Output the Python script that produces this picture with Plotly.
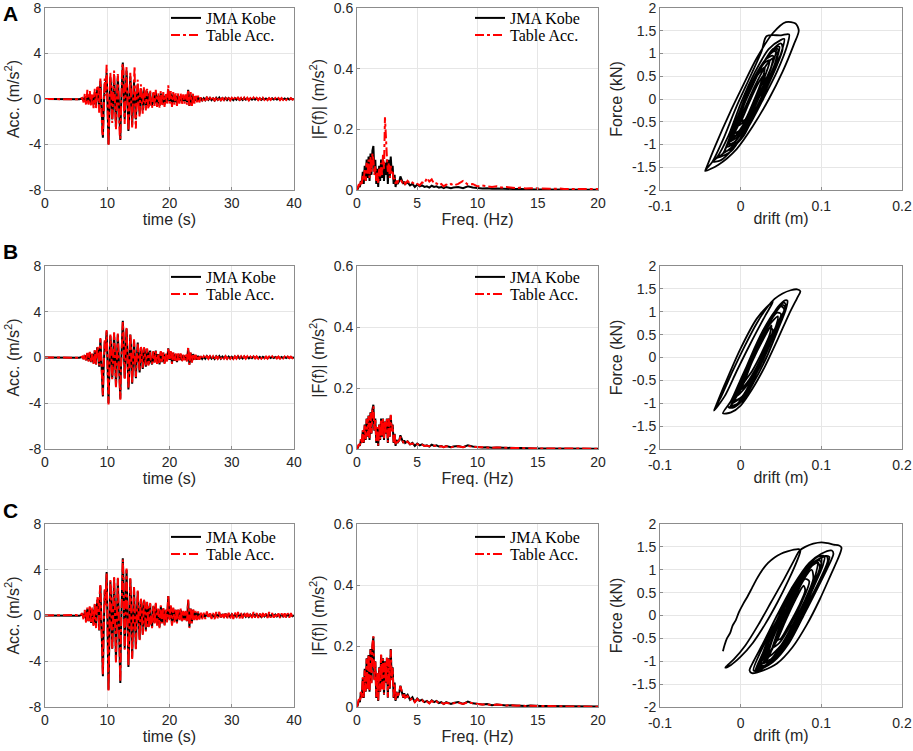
import plotly.graph_objects as go

# ---------------- time axis segments (s) and frequency segments (Hz) ----------------
T_SEG_START = [0.0, 6.0, 8.6, 17.0, 25.0]
T_SEG_STEP = [0.5, 0.2, 0.1, 0.2, 0.25]
F_SEG_START = [0.0, 4.0, 8.0]
F_SEG_STEP = [0.08, 0.2, 0.4]

# ---------------- acceleration records (m/s^2), one list per time segment ----------------
kobe_acc = [
    [0, 0, 0, 0, 0, 0, 0, 0, 0, 0, 0.02, -0.02],
    [0.05, -0.1, 0.2, -0.25, 0.35, -0.3, 0.45, -0.4, 0.3, -0.5, 0.6, -0.6, 0.9],
    [0.5, -0.8, 1.2, 1.6, 0.4, -1.5, -2.6, -3.4, -1.2, 1.0,
     1.4, 0.6, 1.8, 2.3, 0.5, -2.5, -4.0, -2.0, 0.8, 1.9,
     1.2, -0.5, -1.8, -0.9, 1.0, 2.1, 0.8, -1.2, -2.5, -1.0,
     1.1, 2.0, 0.7, -1.5, -3.0, -3.6, -1.0, 1.2, 2.4, 3.2,
     2.0, -0.5, -1.8, -0.4, 1.6, 2.5, 1.0, -1.5, -2.8, -1.6,
     0.5, 2.0, 1.1, -0.8, -2.3, -1.0, 0.6, 1.5, 0.4, -1.2,
     -1.8, -0.5, 1.0, 1.3, 0.2, -1.0, -1.3, 0.0, 0.9, 0.6,
     -0.6, -1.0, -0.2, 0.8, 0.7, -0.4, -0.8, 0.1, 0.7, 0.3,
     -0.6, -0.5, 0.4, 0.6],
    [-0.3, -0.6, 0.5, -0.4, 0.6, -0.5, 0.3, -0.6, 0.5, -0.4,
     0.4, -0.5, 0.3, -0.3, 0.8, -0.2, 0.5, -0.5, 0.4, -0.3,
     0.3, -0.4, 0.3, -0.2, 0.3, -0.3, 0.2, -0.2, 0.2, -0.3,
     0.8, -0.6, 0.4, -0.4, 0.3, -0.2, 0.2, -0.2, 0.15, -0.15],
    [0.1, -0.12, 0.08, -0.1, 0.12, -0.08, 0.1, -0.1, 0.06, -0.12,
     0.1, -0.08, 0.12, -0.1, 0.08, -0.06, 0.1, -0.1, 0.08, -0.08,
     0.06, -0.1, 0.08, -0.06, 0.1, -0.08, 0.06, -0.08, 0.08, -0.06,
     0.06, -0.08, 0.05, -0.06, 0.08, -0.05, 0.06, -0.06, 0.05, -0.08,
     0.06, -0.05, 0.05, -0.06, 0.04, -0.05, 0.06, -0.04, 0.05, -0.05,
     0.04, -0.06, 0.05, -0.04, 0.05, -0.05, 0.04, -0.04, 0.05, -0.03, 0.0],
]

table_acc_A = [
    [0, 0, 0, 0, 0, 0, 0, 0, 0, 0, 0.03, -0.03],
    [0.1, -0.3, 0.5, -0.6, 0.8, -0.5, 0.7, -0.6, 0.5, -0.8, 0.9, -0.9, 1.2],
    [0.9, -1.2, 1.5, 1.8, 0.2, -1.8, -2.9, -3.3, -0.8, 1.5,
     1.8, 0.3, 2.4, 3.0, 0.8, -2.8, -4.1, -1.6, 1.2, 2.3,
     1.0, -0.9, -2.1, -0.5, 1.5, 2.5, 0.4, -1.6, -2.7, -0.6,
     1.6, 2.2, 0.3, -1.9, -3.1, -3.5, -0.6, 1.6, 2.8, 3.1,
     2.6, -0.9, -2.2, 0.1, 2.0, 2.8, 0.6, -1.9, -2.8, -1.1,
     1.0, 2.3, 0.7, -1.3, -2.5, -0.6, 1.1, 2.1, 2.9, -1.6,
     -2.6, -0.2, 1.4, 1.7, -0.3, -1.5, -1.6, 0.4, 1.3, 0.3,
     -1.0, -1.3, 0.2, 1.1, 0.5, -0.8, -1.0, 0.4, 0.9, 0.1,
     -0.9, -0.6, 0.7, 0.8],
    [-0.5, -0.8, 0.7, -0.6, 0.8, -0.7, 0.5, -0.8, 0.7, -0.6,
     0.6, -0.7, 0.5, -0.5, 1.2, -0.4, 0.7, -0.7, 0.6, -0.5,
     0.5, -0.6, 0.5, -0.4, 0.5, -0.5, 0.4, -0.4, 0.4, -0.5,
     0.8, -0.7, 0.6, -0.6, 0.5, -0.4, 0.4, -0.3, 0.3, -0.3],
    [0.15, -0.18, 0.12, -0.15, 0.18, -0.12, 0.15, -0.15, 0.1, -0.18,
     0.15, -0.12, 0.18, -0.15, 0.12, -0.1, 0.15, -0.15, 0.12, -0.12,
     0.1, -0.15, 0.12, -0.1, 0.15, -0.12, 0.1, -0.12, 0.12, -0.1,
     0.1, -0.12, 0.08, -0.1, 0.12, -0.08, 0.1, -0.1, 0.08, -0.12,
     0.1, -0.08, 0.08, -0.1, 0.08, -0.08, 0.1, -0.08, 0.08, -0.08,
     0.08, -0.1, 0.08, -0.08, 0.08, -0.08, 0.08, -0.06, 0.08, -0.06, 0.0],
]

table_acc_B = [
    [0, 0, 0, 0, 0, 0, 0, 0, 0, 0, 0.02, -0.02],
    [0.08, -0.15, 0.25, -0.3, 0.4, -0.35, 0.5, -0.45, 0.35, -0.55, 0.65, -0.65, 0.95],
    [0.6, -0.7, 1.3, 1.7, 0.3, -1.6, -2.7, -3.3, -1.1, 1.1,
     1.5, 0.5, 1.9, 2.4, 0.4, -2.6, -4.1, -1.9, 0.9, 2.0,
     1.1, -0.6, -1.9, -0.8, 1.1, 2.2, 0.7, -1.3, -2.6, -0.9,
     1.2, 2.1, 0.6, -1.6, -3.1, -3.7, -0.9, 1.3, 2.5, 3.1,
     2.1, -0.6, -1.9, -0.3, 1.7, 2.6, 0.9, -1.6, -2.7, -1.5,
     0.6, 2.1, 1.0, -0.9, -2.2, -0.9, 0.7, 1.6, 0.3, -1.3,
     -1.7, -0.4, 1.1, 1.2, 0.1, -1.1, -1.2, 0.1, 1.0, 0.5,
     -0.7, -0.9, -0.1, 0.9, 0.6, -0.5, -0.7, 0.2, 0.8, 0.2,
     -0.7, -0.4, 0.5, 0.5],
    [-0.35, -0.55, 0.55, -0.45, 0.55, -0.55, 0.35, -0.55, 0.55, -0.45,
     0.45, -0.55, 0.35, -0.35, 0.85, -0.25, 0.55, -0.55, 0.45, -0.35,
     0.35, -0.45, 0.35, -0.25, 0.35, -0.35, 0.25, -0.25, 0.25, -0.35,
     0.85, -0.65, 0.45, -0.45, 0.35, -0.25, 0.25, -0.25, 0.2, -0.2],
    [0.12, -0.15, 0.1, -0.12, 0.15, -0.1, 0.12, -0.12, 0.1, -0.15,
     0.12, -0.1, 0.15, -0.12, 0.1, -0.1, 0.12, -0.12, 0.1, -0.1,
     0.1, -0.12, 0.1, -0.1, 0.12, -0.1, 0.1, -0.1, 0.1, -0.1,
     0.1, -0.1, 0.08, -0.1, 0.1, -0.08, 0.1, -0.1, 0.08, -0.1,
     0.08, -0.08, 0.08, -0.1, 0.08, -0.08, 0.1, -0.08, 0.08, -0.08,
     0.08, -0.1, 0.08, -0.08, 0.08, -0.08, 0.08, -0.06, 0.08, -0.06, 0.0],
]

kobe_acc_C = [
    [0, 0, 0, 0, 0, 0, 0, 0, 0, 0, 0.03, -0.03],
    [0.08, -0.16, 0.3, -0.4, 0.55, -0.5, 0.7, -0.65, 0.5, -0.8, 0.95, -0.95, 1.4],
    [0.8, -1.3, 1.9, 2.6, 0.6, -2.4, -4.2, -5.3, -1.9, 1.6,
     2.2, 1.0, 2.9, 3.8, 0.8, -4.0, -6.5, -3.2, 1.3, 3.0,
     1.9, -0.8, -2.9, -1.4, 1.6, 3.3, 1.3, -1.9, -4.0, -1.6,
     1.8, 3.2, 1.1, -2.4, -4.8, -5.9, -1.6, 1.9, 3.8, 5.0,
     3.2, -0.8, -2.9, -0.6, 2.6, 4.0, 1.6, -2.4, -4.5, -2.6,
     0.8, 3.2, 1.8, -1.3, -3.7, -1.6, 1.0, 2.4, 0.6, -1.9,
     -2.9, -0.8, 1.6, 2.1, 0.3, -1.6, -2.1, 0.0, 1.4, 1.0,
     -1.0, -1.6, -0.3, 1.3, 1.1, -0.6, -1.3, 0.2, 1.1, 0.5,
     -1.0, -0.8, 0.6, 1.0],
    [-0.5, -1.0, 0.8, -0.6, 1.0, -0.8, 0.5, -1.0, 0.8, -0.6,
     0.6, -0.8, 0.5, -0.5, 1.7, -0.3, 0.8, -0.8, 0.6, -0.5,
     0.5, -0.6, 0.5, -0.3, 0.5, -0.5, 0.3, -0.3, 0.3, -0.5,
     1.3, -1.0, 0.6, -0.6, 0.5, -0.3, 0.3, -0.3, 0.25, -0.25],
    [0.15, -0.18, 0.12, -0.15, 0.18, -0.12, 0.15, -0.15, 0.1, -0.18,
     0.15, -0.12, 0.18, -0.15, 0.12, -0.1, 0.15, -0.15, 0.12, -0.12,
     0.1, -0.15, 0.12, -0.1, 0.15, -0.12, 0.1, -0.12, 0.12, -0.1,
     0.1, -0.12, 0.08, -0.1, 0.12, -0.08, 0.1, -0.1, 0.08, -0.12,
     0.1, -0.08, 0.08, -0.1, 0.08, -0.08, 0.1, -0.08, 0.08, -0.08,
     0.08, -0.1, 0.08, -0.08, 0.08, -0.08, 0.08, -0.06, 0.08, -0.06, 0.0],
]

table_acc_C = [
    [0, 0, 0, 0, 0, 0, 0, 0, 0, 0.02, 0.05, -0.05],
    [0.2, -0.4, 0.5, -0.7, 0.7, -0.6, 0.9, -0.7, 0.7, -1.0, 1.1, -1.1, 1.6],
    [1.0, -1.4, 2.0, 2.7, 0.5, -2.5, -4.3, -5.2, -1.8, 1.7,
     2.3, 0.9, 3.0, 3.7, 0.7, -4.1, -6.6, -3.1, 1.4, 3.1,
     1.8, -0.9, -3.0, -1.3, 1.7, 3.4, 1.2, -2.0, -4.1, -1.5,
     1.9, 3.3, 1.0, -2.5, -4.9, -5.8, -1.5, 2.0, 3.9, 4.9,
     3.3, -0.9, -3.0, -0.5, 2.7, 4.1, 1.5, -2.5, -4.4, -2.5,
     0.9, 3.3, 1.7, -1.4, -3.8, -1.5, 1.1, 2.5, 0.5, -2.0,
     -3.0, -0.7, 1.7, 2.2, 0.2, -1.7, -2.2, 0.1, 1.5, 0.9,
     -1.1, -1.7, -0.2, 1.4, 1.0, -0.7, -1.4, 0.3, 1.2, 0.4,
     -1.1, -0.9, 0.7, 1.1],
    [-0.6, -1.1, 0.9, -0.7, 1.1, -0.9, 0.6, -1.1, 0.9, -0.7,
     0.7, -0.9, 0.6, -0.6, 1.8, -0.4, 0.9, -0.9, 0.7, -0.6,
     0.6, -0.7, 0.6, -0.4, 0.6, -0.6, 0.4, -0.4, 0.4, -0.6,
     1.4, -1.1, 0.7, -0.7, 0.6, -0.4, 0.4, -0.4, 0.35, -0.35],
    [0.3, -0.32, 0.25, -0.3, 0.35, -0.25, 0.3, -0.3, 0.22, -0.32,
     0.3, -0.25, 0.32, -0.3, 0.25, -0.22, 0.3, -0.3, 0.25, -0.25,
     0.22, -0.3, 0.25, -0.22, 0.3, -0.25, 0.22, -0.25, 0.25, -0.22,
     0.22, -0.25, 0.2, -0.22, 0.3, -0.2, 0.22, -0.22, 0.2, -0.25,
     0.22, -0.2, 0.2, -0.22, 0.3, -0.2, 0.22, -0.2, 0.2, -0.2,
     0.2, -0.22, 0.2, -0.2, 0.2, -0.2, 0.2, -0.18, 0.2, -0.15, 0.0],
]

# ---------------- Fourier amplitude spectra |F(f)| (m/s^2), one list per frequency segment ----------------
kobe_fft = [
    [0.0, 0.005, 0.015, 0.01, 0.03, 0.02, 0.06, 0.02, 0.08, 0.03,
     0.1, 0.04, 0.11, 0.03, 0.12, 0.05, 0.13, 0.145, 0.06, 0.1,
     0.02, 0.07, 0.01, 0.08, 0.03, 0.1, 0.04, 0.1, 0.03, 0.09,
     0.05, 0.1, 0.02, 0.1, 0.04, 0.11, 0.06, 0.08, 0.02, 0.05,
     0.01, 0.03, 0.02, 0.025, 0.03, 0.045, 0.035, 0.03, 0.02, 0.028],
    [0.02, 0.025, 0.015, 0.02, 0.01, 0.018, 0.012, 0.015, 0.01, 0.012,
     0.008, 0.014, 0.01, 0.012, 0.008, 0.01, 0.006, 0.01, 0.008, 0.006],
    [0.008, 0.01, 0.006, 0.012, 0.008, 0.006, 0.005, 0.006, 0.004, 0.005,
     0.004, 0.003, 0.004, 0.003, 0.003, 0.002, 0.003, 0.002, 0.002, 0.002,
     0.002, 0.002, 0.001, 0.002, 0.001, 0.001, 0.001, 0.001, 0.001, 0.001, 0.001],
]

table_fft_A = [
    [0.0, 0.01, 0.02, 0.01, 0.03, 0.02, 0.05, 0.03, 0.07, 0.03,
     0.09, 0.05, 0.1, 0.04, 0.11, 0.06, 0.12, 0.1, 0.05, 0.08,
     0.03, 0.06, 0.02, 0.07, 0.04, 0.09, 0.05, 0.12, 0.07, 0.24,
     0.14, 0.11, 0.06, 0.09, 0.04, 0.08, 0.05, 0.06, 0.03, 0.04,
     0.02, 0.03, 0.025, 0.03, 0.03, 0.035, 0.03, 0.025, 0.03, 0.028],
    [0.02, 0.03, 0.02, 0.025, 0.018, 0.02, 0.015, 0.025, 0.022, 0.04,
     0.028, 0.035, 0.02, 0.022, 0.015, 0.02, 0.012, 0.018, 0.015, 0.02],
    [0.015, 0.02, 0.03, 0.018, 0.02, 0.012, 0.015, 0.012, 0.01, 0.012,
     0.008, 0.01, 0.008, 0.006, 0.008, 0.005, 0.006, 0.005, 0.004, 0.005,
     0.004, 0.004, 0.005, 0.003, 0.004, 0.003, 0.003, 0.004, 0.003, 0.003, 0.003],
]

table_fft_B = [
    [0.0, 0.006, 0.016, 0.012, 0.032, 0.018, 0.062, 0.022, 0.078, 0.032,
     0.098, 0.042, 0.108, 0.032, 0.118, 0.052, 0.128, 0.14, 0.062, 0.098,
     0.022, 0.072, 0.012, 0.082, 0.032, 0.098, 0.042, 0.098, 0.032, 0.092,
     0.052, 0.098, 0.022, 0.1, 0.042, 0.112, 0.058, 0.078, 0.022, 0.052,
     0.012, 0.03, 0.022, 0.026, 0.028, 0.04, 0.035, 0.028, 0.022, 0.026],
    [0.022, 0.024, 0.016, 0.018, 0.012, 0.016, 0.012, 0.014, 0.01, 0.011,
     0.009, 0.012, 0.01, 0.01, 0.008, 0.009, 0.006, 0.009, 0.007, 0.006],
    [0.007, 0.009, 0.006, 0.01, 0.007, 0.006, 0.005, 0.005, 0.004, 0.005,
     0.004, 0.003, 0.004, 0.003, 0.003, 0.002, 0.003, 0.002, 0.002, 0.002,
     0.002, 0.002, 0.002, 0.002, 0.001, 0.001, 0.001, 0.001, 0.001, 0.001, 0.001],
]

kobe_fft_C = [
    [0.0, 0.008, 0.024, 0.016, 0.048, 0.03, 0.095, 0.03, 0.125, 0.05,
     0.16, 0.06, 0.17, 0.05, 0.19, 0.08, 0.2, 0.23, 0.09, 0.15,
     0.03, 0.11, 0.02, 0.13, 0.05, 0.17, 0.06, 0.16, 0.04, 0.15,
     0.08, 0.16, 0.03, 0.16, 0.06, 0.19, 0.09, 0.13, 0.03, 0.08,
     0.02, 0.05, 0.03, 0.04, 0.05, 0.07, 0.055, 0.045, 0.03, 0.045],
    [0.032, 0.04, 0.024, 0.032, 0.016, 0.028, 0.02, 0.024, 0.016, 0.02,
     0.013, 0.022, 0.016, 0.02, 0.013, 0.016, 0.01, 0.016, 0.013, 0.01],
    [0.013, 0.016, 0.01, 0.018, 0.012, 0.01, 0.008, 0.01, 0.006, 0.008,
     0.006, 0.005, 0.006, 0.005, 0.005, 0.003, 0.005, 0.003, 0.003, 0.003,
     0.003, 0.003, 0.002, 0.003, 0.002, 0.002, 0.002, 0.002, 0.002, 0.002, 0.002],
]

table_fft_C = [
    [0.0, 0.01, 0.026, 0.018, 0.05, 0.028, 0.098, 0.032, 0.12, 0.052,
     0.158, 0.058, 0.172, 0.052, 0.188, 0.078, 0.205, 0.232, 0.088, 0.148,
     0.032, 0.112, 0.022, 0.128, 0.052, 0.172, 0.058, 0.158, 0.042, 0.148,
     0.082, 0.162, 0.032, 0.158, 0.062, 0.188, 0.088, 0.128, 0.032, 0.078,
     0.022, 0.048, 0.032, 0.042, 0.048, 0.068, 0.052, 0.042, 0.032, 0.042],
    [0.03, 0.036, 0.022, 0.03, 0.016, 0.026, 0.018, 0.022, 0.014, 0.018,
     0.012, 0.02, 0.014, 0.018, 0.012, 0.014, 0.01, 0.014, 0.012, 0.01],
    [0.012, 0.014, 0.01, 0.016, 0.012, 0.01, 0.008, 0.009, 0.006, 0.008,
     0.006, 0.005, 0.006, 0.004, 0.005, 0.003, 0.004, 0.003, 0.003, 0.003,
     0.003, 0.002, 0.002, 0.002, 0.002, 0.002, 0.002, 0.001, 0.002, 0.001, 0.001],
]

# ---------------- hysteresis paths (drift m, force kN) ----------------
hysteresis_A = [
    (-0.044, -1.58), (-0.032, -1.05), (-0.012, -0.25), (0.003, 0.3), (0.02, 0.9), (0.04, 1.45),
    (0.056, 1.69), (0.068, 1.66), (0.072, 1.5), (0.066, 1.2), (0.052, 0.6), (0.035, 0.0),
    (0.015, -0.6), (-0.005, -1.1), (-0.028, -1.45), (-0.044, -1.58),
    (-0.035, -1.38), (-0.022, -0.9), (-0.006, -0.2), (0.012, 0.5), (0.026, 1.05), (0.032, 1.38),
    (0.05, 1.4), (0.06, 1.42), (0.058, 1.2), (0.045, 0.6), (0.028, 0.0), (0.01, -0.6),
    (-0.01, -1.1), (-0.025, -1.35), (-0.035, -1.38),
    (-0.03, -1.3), (-0.015, -0.8), (0.0, -0.1), (0.018, 0.6), (0.035, 1.1), (0.05, 1.3),
    (0.054, 1.32), (0.05, 1.0), (0.038, 0.5), (0.022, -0.1), (0.005, -0.7), (-0.012, -1.15), (-0.03, -1.3),
    (-0.022, -1.2), (-0.01, -0.7), (0.006, 0.0), (0.022, 0.6), (0.038, 1.05), (0.05, 1.22),
    (0.052, 1.1), (0.044, 0.7), (0.03, 0.15), (0.014, -0.45), (-0.004, -0.95), (-0.022, -1.2),
    (-0.02, -1.15), (-0.008, -0.6), (0.008, 0.1), (0.025, 0.7), (0.04, 1.1), (0.048, 1.15),
    (0.045, 0.9), (0.034, 0.4), (0.02, -0.2), (0.004, -0.8), (-0.012, -1.1), (-0.02, -1.15),
    (-0.018, -1.05), (-0.004, -0.4), (0.012, 0.3), (0.028, 0.8), (0.042, 1.05), (0.046, 0.95),
    (0.036, 0.5), (0.022, 0.0), (0.006, -0.6), (-0.01, -1.0), (-0.018, -1.05),
    (-0.015, -0.95), (-0.002, -0.35), (0.014, 0.35), (0.03, 0.85), (0.04, 0.95), (0.038, 0.7),
    (0.026, 0.2), (0.012, -0.3), (-0.002, -0.8), (-0.015, -0.95),
    (-0.01, -0.8), (0.002, -0.2), (0.016, 0.4), (0.03, 0.8), (0.036, 0.85), (0.03, 0.5),
    (0.018, 0.0), (0.006, -0.5), (-0.006, -0.8), (-0.01, -0.8),
    (-0.008, -0.75), (0.004, -0.25), (0.018, 0.3), (0.032, 0.75), (0.04, 0.9), (0.036, 0.6),
    (0.024, 0.15), (0.01, -0.35), (-0.002, -0.7), (-0.008, -0.75),
    (-0.005, -0.6), (0.006, -0.05), (0.02, 0.5), (0.03, 0.7), (0.026, 0.4), (0.016, -0.05),
    (0.004, -0.5), (-0.005, -0.6),
    (0.0, -0.5), (0.01, -0.1), (0.022, 0.35), (0.03, 0.55), (0.028, 0.3), (0.018, -0.1),
    (0.006, -0.45), (0.0, -0.5),
    (-0.012, -0.9), (0.0, -0.3), (0.015, 0.3), (0.032, 0.9), (0.044, 1.1), (0.04, 0.8),
    (0.028, 0.3), (0.014, -0.2), (0.0, -0.7), (-0.012, -0.9),
    (-0.016, -1.0), (0.002, -0.2), (0.02, 0.5), (0.036, 1.0), (0.046, 1.1), (0.042, 0.75),
    (0.03, 0.2), (0.01, -0.5), (-0.008, -0.95), (-0.016, -1.0),
]

hysteresis_B = [
    (-0.033, -1.16), (-0.02, -0.6), (0.0, 0.2), (0.02, 0.85), (0.035, 1.15), (0.04, 1.22),
    (0.03, 0.9), (0.012, 0.3), (-0.005, -0.3), (-0.02, -0.85), (-0.033, -1.16),
    (-0.024, -0.85), (-0.01, -0.3), (0.005, 0.25), (0.02, 0.75), (0.033, 1.1), (0.042, 1.28),
    (0.052, 1.4), (0.062, 1.47), (0.07, 1.49), (0.074, 1.45), (0.07, 1.3), (0.06, 0.95),
    (0.046, 0.4), (0.03, -0.2), (0.014, -0.7), (0.0, -1.05), (-0.012, -1.2), (-0.022, -1.22),
    (-0.012, -0.95), (0.002, -0.4), (0.018, 0.2), (0.034, 0.75), (0.046, 1.1), (0.055, 1.25),
    (0.058, 1.24), (0.056, 1.05), (0.046, 0.6), (0.032, 0.0), (0.016, -0.55), (0.002, -0.95),
    (-0.01, -1.1), (-0.015, -1.08),
    (-0.014, -1.1), (-0.002, -0.6), (0.012, 0.0), (0.028, 0.6), (0.042, 1.0), (0.054, 1.2),
    (0.056, 1.12), (0.05, 0.85), (0.038, 0.35), (0.024, -0.2), (0.008, -0.7), (-0.006, -1.05), (-0.014, -1.1),
    (-0.012, -1.05), (0.0, -0.5), (0.015, 0.1), (0.03, 0.65), (0.044, 1.0), (0.052, 1.15),
    (0.055, 1.1), (0.048, 0.8), (0.036, 0.3), (0.022, -0.25), (0.008, -0.75), (-0.005, -1.02), (-0.012, -1.05),
    (-0.008, -0.95), (0.004, -0.4), (0.018, 0.15), (0.032, 0.65), (0.045, 0.98), (0.05, 0.95),
    (0.042, 0.6), (0.03, 0.1), (0.016, -0.4), (0.002, -0.85), (-0.008, -0.95),
    (-0.005, -0.85), (0.007, -0.3), (0.021, 0.25), (0.035, 0.7), (0.046, 0.9), (0.044, 0.7),
    (0.034, 0.3), (0.02, -0.2), (0.006, -0.65), (-0.005, -0.85),
    (0.0, -0.7), (0.01, -0.2), (0.024, 0.3), (0.036, 0.65), (0.04, 0.6), (0.032, 0.25),
    (0.02, -0.2), (0.008, -0.55), (0.0, -0.7),
    (0.004, -0.55), (0.014, -0.1), (0.028, 0.4), (0.038, 0.7), (0.036, 0.5), (0.026, 0.1),
    (0.014, -0.3), (0.004, -0.55),
    (-0.01, -1.0), (0.003, -0.45), (0.02, 0.25), (0.036, 0.8), (0.05, 1.12), (0.054, 1.05),
    (0.046, 0.7), (0.034, 0.2), (0.018, -0.35), (0.002, -0.85), (-0.01, -1.0),
]

hysteresis_C = [
    (-0.022, -0.78), (-0.02, -0.65), (-0.017, -0.5), (-0.013, -0.38), (-0.01, -0.22), (-0.006, -0.1),
    (-0.002, 0.08), (0.003, 0.25), (0.008, 0.4), (0.014, 0.6), (0.02, 0.8), (0.027, 1.0),
    (0.034, 1.15), (0.042, 1.27), (0.05, 1.35), (0.058, 1.4), (0.066, 1.44), (0.072, 1.45),
    (0.074, 1.42), (0.07, 1.2), (0.06, 0.8), (0.046, 0.3), (0.03, -0.2), (0.015, -0.6),
    (0.0, -0.9), (-0.012, -1.08), (-0.019, -1.14), (-0.017, -1.1), (-0.008, -0.95), (0.006, -0.65),
    (0.022, -0.2), (0.038, 0.3), (0.054, 0.8), (0.066, 1.2), (0.073, 1.42), (0.08, 1.5),
    (0.09, 1.57), (0.1, 1.6), (0.108, 1.58), (0.115, 1.55), (0.122, 1.53), (0.125, 1.48),
    (0.122, 1.3), (0.112, 0.9), (0.098, 0.35), (0.082, -0.2), (0.064, -0.7), (0.045, -1.05),
    (0.028, -1.2), (0.014, -1.26), (0.011, -1.2), (0.016, -1.0), (0.028, -0.6), (0.045, 0.0),
    (0.065, 0.65), (0.085, 1.15), (0.1, 1.35), (0.113, 1.42), (0.115, 1.35), (0.108, 1.05),
    (0.094, 0.55), (0.078, 0.0), (0.06, -0.55), (0.04, -1.0), (0.022, -1.2), (0.016, -1.2),
    (0.03, -0.6), (0.05, 0.05), (0.072, 0.7), (0.092, 1.15), (0.105, 1.3), (0.11, 1.28),
    (0.106, 1.05), (0.094, 0.6), (0.078, 0.0), (0.06, -0.6), (0.04, -1.02), (0.022, -1.2),
    (0.018, -1.22), (0.028, -0.8), (0.042, -0.25), (0.06, 0.35), (0.078, 0.85), (0.092, 1.18),
    (0.106, 1.3), (0.108, 1.2), (0.1, 0.85), (0.086, 0.35), (0.068, -0.25), (0.05, -0.75),
    (0.032, -1.1), (0.018, -1.22),
    (0.02, -1.18), (0.03, -0.7), (0.045, -0.1), (0.062, 0.5), (0.08, 1.0), (0.095, 1.28),
    (0.104, 1.3), (0.102, 1.1), (0.09, 0.6), (0.075, 0.0), (0.058, -0.6), (0.04, -1.0), (0.026, -1.15), (0.02, -1.18),
    (0.022, -1.15), (0.034, -0.6), (0.048, -0.05), (0.064, 0.5), (0.08, 0.95), (0.094, 1.2),
    (0.098, 1.05), (0.088, 0.6), (0.074, 0.05), (0.058, -0.5), (0.042, -0.9), (0.028, -1.12), (0.022, -1.15),
    (0.024, -1.1), (0.036, -0.55), (0.05, 0.0), (0.066, 0.55), (0.082, 1.0), (0.096, 1.22),
    (0.1, 1.15), (0.092, 0.75), (0.08, 0.25), (0.064, -0.3), (0.048, -0.8), (0.032, -1.08), (0.024, -1.1),
    (0.03, -1.0), (0.04, -0.5), (0.054, 0.05), (0.07, 0.6), (0.086, 1.05), (0.095, 1.15),
    (0.093, 0.9), (0.082, 0.4), (0.068, -0.15), (0.052, -0.65), (0.038, -0.95), (0.03, -1.0),
    (0.035, -0.9), (0.046, -0.35), (0.06, 0.2), (0.075, 0.7), (0.088, 1.0), (0.09, 0.8),
    (0.08, 0.35), (0.066, -0.15), (0.05, -0.65), (0.035, -0.9),
    (0.04, -0.7), (0.052, -0.2), (0.066, 0.35), (0.08, 0.8), (0.085, 0.75), (0.076, 0.3),
    (0.062, -0.2), (0.048, -0.6), (0.04, -0.7),
    (0.045, -0.55), (0.056, -0.1), (0.068, 0.35), (0.078, 0.65), (0.08, 0.55), (0.072, 0.2),
    (0.06, -0.2), (0.05, -0.5), (0.045, -0.55),
    (0.028, -1.05), (0.042, -0.4), (0.058, 0.2), (0.076, 0.8), (0.09, 1.15), (0.1, 1.25),
    (0.098, 1.0), (0.086, 0.5), (0.07, -0.05), (0.054, -0.55), (0.038, -0.95), (0.028, -1.05),
]

# ---------------- axis ticks ----------------
acc_ticks = [-8, -4, 0, 4, 8]
acc_ticktext = ["-8", "-4", "0", "4", "8"]
time_ticks = [0, 10, 20, 30, 40]
fft_ticks = [0, 0.2, 0.4, 0.6]
fft_ticktext = ["0", "0.2", "0.4", "0.6"]
freq_ticks = [0, 5, 10, 15, 20]
force_ticks = [-2, -1.5, -1, -0.5, 0, 0.5, 1, 1.5, 2]
force_ticktext = ["-2", "-1.5", "-1", "-0.5", "0", "0.5", "1", "1.5", "2"]
drift_ticks = [-0.1, 0, 0.1, 0.2]
drift_ticktext = ["-0.1", "0", "0.1", "0.2"]
series_names = ["JMA Kobe", "Table Acc."]


def build(segs, starts, steps):
    xs, ys = [], []
    for s0, d, vals in zip(starts, steps, segs):
        xs += [round(s0 + d * i, 4) for i in range(len(vals))]
        ys += list(vals)
    return xs, ys


W, H = 913, 751
COLS = [(45, 294), (357, 598), (660, 902)]
ROWS = [(8, 190), (266, 449), (524, 707)]
LEG_X = [206, 510]                               # text start of legend entries (px)
LEG_Y = [(18, 35), (277, 294), (537, 554)]       # centers of the two legend rows (px)

SANS = "Liberation Sans, Arial, sans-serif"
SERIF = "Liberation Serif, Times New Roman, serif"
TXT = "#262626"

fig = go.Figure()
layout = dict(width=W, height=H, margin=dict(l=0, r=0, t=0, b=0),
              paper_bgcolor="white", plot_bgcolor="white", showlegend=True)


def axis_common():
    return dict(showline=True, linecolor="#8c8c8c", linewidth=1, mirror=True,
                ticks="inside", ticklen=3, tickcolor="#8c8c8c",
                showgrid=True, gridcolor="#e6e6e6", gridwidth=1, zeroline=False,
                ticklabeloverflow="allow",
                tickfont=dict(family=SANS, size=14, color=TXT), automargin=False)


rows_data = [
    ("A", kobe_acc, table_acc_A, kobe_fft, table_fft_A, hysteresis_A),
    ("B", kobe_acc, table_acc_B, kobe_fft, table_fft_B, hysteresis_B),
    ("C", kobe_acc_C, table_acc_C, kobe_fft_C, table_fft_C, hysteresis_C),
]
TFONT = dict(family=SANS, size=16, color=TXT)

legend_idx = 0
for r, (label, acc_k, acc_t, fft_k, fft_t, hyst) in enumerate(rows_data):
    top, bot = ROWS[r]
    ydom = [1 - bot / H, 1 - top / H]
    for c in range(3):
        n = r * 3 + c + 1
        xa = "xaxis" if n == 1 else f"xaxis{n}"
        ya = "yaxis" if n == 1 else f"yaxis{n}"
        xr = "x" if n == 1 else f"x{n}"
        yr = "y" if n == 1 else f"y{n}"
        xdom = [COLS[c][0] / W, COLS[c][1] / W]
        xax = axis_common(); yax = axis_common()
        xax.update(domain=xdom, anchor=yr)
        yax.update(domain=ydom, anchor=xr)
        if c == 0:
            xax.update(range=[0, 40], tickvals=time_ticks,
                       title=dict(text="time (s)", font=TFONT, standoff=1))
            yax.update(range=[-8, 8], tickvals=acc_ticks, ticktext=acc_ticktext,
                       title=dict(text="Acc. (m/s<sup>2</sup>)", font=TFONT, standoff=5))
            tk, vk = build(acc_k, T_SEG_START, T_SEG_STEP)
            tt, vt = build(acc_t, T_SEG_START, T_SEG_STEP)
        elif c == 1:
            xax.update(range=[0, 20], tickvals=freq_ticks,
                       title=dict(text="Freq. (Hz)", font=TFONT, standoff=1))
            yax.update(range=[0, 0.6], tickvals=fft_ticks, ticktext=fft_ticktext,
                       title=dict(text="|F(f)| (m/s<sup>2</sup>)", font=TFONT, standoff=5))
            tk, vk = build(fft_k, F_SEG_START, F_SEG_STEP)
            tt, vt = build(fft_t, F_SEG_START, F_SEG_STEP)
        else:
            xax.update(range=[-0.1, 0.2], tickvals=drift_ticks, ticktext=drift_ticktext,
                       ticklabelstandoff=3,
                       title=dict(text="drift (m)", font=TFONT, standoff=0))
            yax.update(range=[-2, 2], tickvals=force_ticks, ticktext=force_ticktext,
                       title=dict(text="Force (kN)", font=TFONT, standoff=5))
        layout[xa] = xax
        layout[ya] = yax

        if c < 2:
            styles = [dict(color="black", width=2), dict(color="#ff0000", width=2, dash="dashdot")]
            for k, (xs, ys) in enumerate([(tk, vk), (tt, vt)]):
                legend_idx += 1
                lg = "legend" if legend_idx == 1 else f"legend{legend_idx}"
                fig.add_trace(go.Scatter(x=xs, y=ys, xaxis=xr, yaxis=yr, mode="lines",
                                         name=series_names[k], legend=lg, line=styles[k]))
                layout[lg] = dict(x=(LEG_X[c] - 40) / W, xanchor="left",
                                  y=1 - LEG_Y[r][k] / H, yanchor="middle",
                                  bgcolor="rgba(255,255,255,0)", borderwidth=0,
                                  font=dict(family=SERIF, size=16, color="black"))
        else:
            hx = [p[0] for p in hyst]
            hy = [p[1] for p in hyst]
            fig.add_trace(go.Scatter(x=hx, y=hy, xaxis=xr, yaxis=yr, mode="lines",
                                     showlegend=False,
                                     line=dict(color="black", width=1.8, shape="spline", smoothing=0.8)))

annotations = []
for label, yc in [("A", 14), ("B", 252), ("C", 511)]:
    annotations.append(dict(text=f"<b>{label}</b>", x=10 / W, y=1 - yc / H, xref="paper", yref="paper",
                            xanchor="center", yanchor="middle", showarrow=False,
                            font=dict(family=SANS, size=21, color="black")))
layout["annotations"] = annotations

fig.update_layout(**layout)
fig.write_html("out.html", config={"displayModeBar": False},
               post_script="document.body.style.margin='0';document.body.style.padding='0';")
